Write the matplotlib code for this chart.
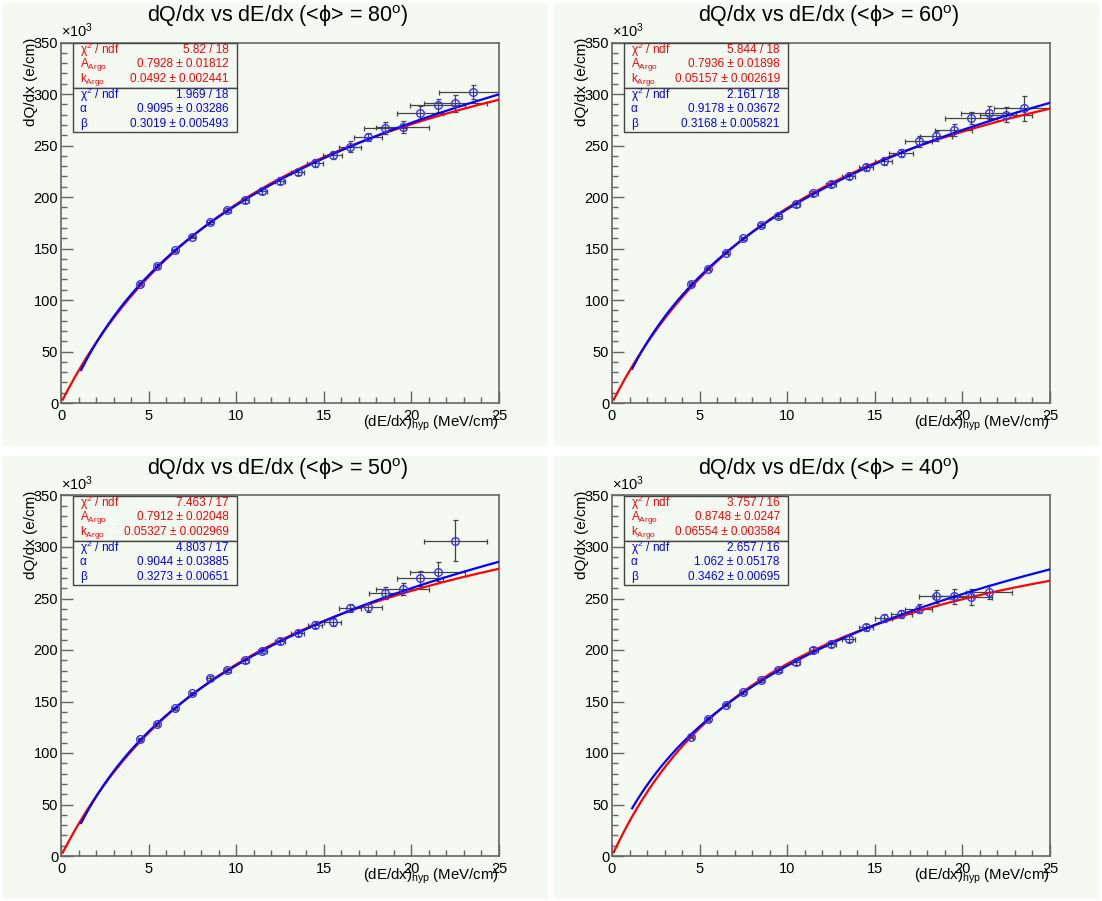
import numpy as np
import matplotlib
matplotlib.use('Agg')
import matplotlib.pyplot as plt
from matplotlib.patches import Rectangle

plt.rcParams['font.family'] = ['Liberation Sans', 'DejaVu Sans']
plt.rcParams['mathtext.fontset'] = 'custom'
plt.rcParams['mathtext.rm'] = 'Liberation Sans'
plt.rcParams['mathtext.it'] = 'Liberation Sans:italic'

# ---- data (dQ/dx in units of 1e3 e/cm) ----
angles = [80, 60, 50, 40]

x_80 = [4.5, 5.5, 6.5, 7.5, 8.5, 9.5, 10.5, 11.5, 12.5, 13.5, 14.5, 15.5, 16.5, 17.5, 18.5, 19.5, 20.5, 21.5, 22.5, 23.5]
y_80 = [116, 133, 148.5, 161.5, 176, 187, 197, 205.5, 216, 224, 233, 241, 249, 258, 267, 268, 282, 289, 291, 302]
xe_80 = [0.1, 0.12, 0.14, 0.16, 0.18, 0.2, 0.22, 0.26, 0.3, 0.35, 0.45, 0.53, 0.65, 0.8, 1.2, 1.5, 1.33, 1.58, 1.8, 1.9]
ye_80 = [1.5, 1.5, 1.5, 1.5, 2, 2, 2.5, 2.5, 3, 3, 3.5, 4, 5, 4, 6, 6, 6, 6, 8, 6.5]

x_60 = [4.5, 5.5, 6.5, 7.5, 8.5, 9.5, 10.5, 11.5, 12.5, 13.5, 14.5, 15.5, 16.5, 17.5, 18.5, 19.5, 20.5, 21.5, 22.5, 23.5]
y_60 = [116, 130.5, 146, 160, 173, 181.5, 193, 203.5, 212.5, 220.5, 229, 235, 242.5, 254, 259, 265, 276.5, 282, 280, 286]
xe_60 = [0.1, 0.12, 0.14, 0.16, 0.18, 0.2, 0.22, 0.26, 0.3, 0.35, 0.4, 0.5, 0.67, 0.76, 0.9, 1.05, 1.5, 1.58, 1.5, 1.7]
ye_60 = [1.5, 1.5, 1.5, 1.5, 2, 2, 2.5, 2.5, 3, 3, 3.5, 4, 4, 5, 5, 5.5, 6, 6, 7, 12.5]

x_50 = [4.5, 5.5, 6.5, 7.5, 8.5, 9.5, 10.5, 11.5, 12.5, 13.5, 14.5, 15.5, 16.5, 17.5, 18.5, 19.5, 20.5, 21.5, 22.5]
y_50 = [113.5, 128, 143.5, 158, 172.5, 180.5, 190, 199.5, 208.5, 216.5, 224.5, 227, 241, 241.5, 255.5, 259.5, 269.5, 276, 306]
xe_50 = [0.1, 0.12, 0.14, 0.16, 0.18, 0.2, 0.22, 0.26, 0.3, 0.35, 0.4, 0.5, 0.65, 0.8, 0.93, 1.5, 1.33, 1.58, 1.8]
ye_50 = [1.5, 1.5, 1.5, 1.5, 2, 2, 2.5, 2.5, 3, 3, 3.5, 4, 4, 4.5, 6, 6, 7, 9, 20]

x_40 = [4.5, 5.5, 6.5, 7.5, 8.5, 9.5, 10.5, 11.5, 12.5, 13.5, 14.5, 15.5, 16.5, 17.5, 18.5, 19.5, 20.5, 21.5]
y_40 = [116, 133, 147, 159, 171, 181, 188, 200, 206, 211, 222, 231, 235, 240, 252, 252, 251.5, 256.5]
xe_40 = [0.1, 0.12, 0.14, 0.16, 0.18, 0.2, 0.22, 0.26, 0.3, 0.35, 0.4, 0.5, 0.6, 0.76, 0.97, 1.1, 1.2, 1.31]
ye_40 = [1.5, 1.5, 1.5, 1.5, 2, 2, 2.5, 2.5, 3, 3, 3.5, 4, 4, 4.5, 6, 7, 8, 7]

# fit results shown in the stat boxes
chi_birks = ['5.82 / 18', '5.844 / 18', '7.463 / 17', '3.757 / 16']
A_argo = [0.7928, 0.7936, 0.7912, 0.8748]
A_argo_txt = ['0.7928', '0.7936', '0.7912', '0.8748']
A_argo_err = ['0.01812', '0.01898', '0.02048', '0.0247']
k_argo = [0.0492, 0.05157, 0.05327, 0.06554]
k_argo_txt = ['0.0492', '0.05157', '0.05327', '0.06554']
k_argo_err = ['0.002441', '0.002619', '0.002969', '0.003584']

chi_modbox = ['1.969 / 18', '2.161 / 18', '4.803 / 17', '2.657 / 16']
alpha = [0.9095, 0.9178, 0.9044, 1.062]
alpha_txt = ['0.9095', '0.9178', '0.9044', '1.062']
alpha_err = ['0.03286', '0.03672', '0.03885', '0.05178']
beta = [0.3019, 0.3168, 0.3273, 0.3462]
beta_txt = ['0.3019', '0.3168', '0.3273', '0.3462']
beta_err = ['0.005493', '0.005821', '0.00651', '0.00695']

xs = [x_80, x_60, x_50, x_40]
ys = [y_80, y_60, y_50, y_40]
xes = [xe_80, xe_60, xe_50, xe_40]
yes = [ye_80, ye_60, ye_50, ye_40]

W_ion = 23.6e-6   # MeV
rhoE = 0.664      # density * field

def birks(x, A, k):
    return A * x / (1 + k / rhoE * x) / W_ion / 1e3

def modbox(x, a, b):
    return np.log(a + b * x) / b / W_ion / 1e3

fig = plt.figure(figsize=(11.02, 9.01), dpi=100)
FW, FH = 1102.0, 901.0
pad_col = '#f4f9f2'
axcol = '#666666'

pads = [(0, 0), (551, 0), (0, 453), (551, 453)]
for i in range(4):
    px, py = pads[i]
    # pad background
    fig.patches.append(Rectangle(((px + 3) / FW, 1 - (py + 446) / FH), 545 / FW, 443 / FH,
                                 transform=fig.transFigure, facecolor=pad_col, edgecolor='none', zorder=-10))
    ax = fig.add_axes([(px + 61) / FW, 1 - (py + 403) / FH, 438 / FW, 360.5 / FH])
    ax.set_zorder(1)
    ax.set_facecolor(pad_col)
    ax.set_xlim(0, 25)
    ax.set_ylim(0, 350)
    ax.set_xticks(np.arange(0, 26, 5))
    ax.set_xticks(np.arange(0, 26, 1), minor=True)
    ax.set_yticks(np.arange(0, 351, 50))
    ax.set_yticks(np.arange(0, 351, 10), minor=True)
    ax.tick_params(which='both', direction='in', colors=axcol, labelcolor='black', labelsize=10.5)
    ax.tick_params(which='major', length=8.5, width=1)
    ax.tick_params(which='minor', length=4.5, width=1)
    ax.tick_params(axis='x', pad=4)
    ax.tick_params(axis='y', pad=2)
    for s in ax.spines.values():
        s.set_color(axcol)
        s.set_linewidth(1.2)

    ax.errorbar(xs[i], ys[i], xerr=xes[i], yerr=yes[i], fmt='none', ecolor='#444444',
                elinewidth=0.9, capsize=1.8, capthick=0.9, zorder=2)

    xr = np.linspace(0.1, 25, 300)
    ax.plot(xr, birks(xr, A_argo[i], k_argo[i]), color='#ff0000', lw=1.6, zorder=3)
    xb = np.linspace(1.15, 25, 300)
    ax.plot(xb, modbox(xb, alpha[i], beta[i]), color='#0000ff', lw=1.6, zorder=4)

    ax.plot(xs[i], ys[i], 'o', mfc='none', mec='#3333ff', ms=5.5, mew=1.0, zorder=5)

    # stat boxes
    ax.add_patch(Rectangle((0.027, 0.875), 0.374, 0.125, transform=ax.transAxes,
                           facecolor=pad_col, edgecolor='#444444', lw=1, zorder=6))
    ax.add_patch(Rectangle((0.027, 0.751), 0.374, 0.124, transform=ax.transAxes,
                           facecolor=pad_col, edgecolor='#444444', lw=1, zorder=6))
    rows = [
        ('χ$^{2}$ / ndf', chi_birks[i], 'red'),
        ('A$_{\\rm Argo}$', A_argo_txt[i] + ' ± ' + A_argo_err[i], 'red'),
        ('k$_{\\rm Argo}$', k_argo_txt[i] + ' ± ' + k_argo_err[i], 'red'),
        ('χ$^{2}$ / ndf', chi_modbox[i], 'blue'),
        ('α', alpha_txt[i] + ' ± ' + alpha_err[i], 'blue'),
        ('β', beta_txt[i] + ' ± ' + beta_err[i], 'blue'),
    ]
    row_y = [0.979, 0.940, 0.898, 0.854, 0.815, 0.773]
    for (lab, val, c), yy in zip(rows, row_y):
        ax.text(0.043, yy, lab, color=c, fontsize=8.5, transform=ax.transAxes, ha='left', va='center', zorder=7)
        ax.text(0.383, yy, val, color=c, fontsize=8.5, transform=ax.transAxes, ha='right', va='center', zorder=7)

    ax.text(0.0, 1.008, '×10$^{3}$', transform=ax.transAxes, fontsize=10.5, ha='left', va='bottom')
    ax.text(-0.068, 1.014, 'dQ/dx (e/cm)', transform=ax.transAxes, fontsize=11, rotation=90,
            ha='center', va='top')
    ax.text(1.0, -0.03, '(dE/dx)$_{\\rm hyp}$ (MeV/cm)', transform=ax.transAxes, fontsize=10.8,
            ha='right', va='top')

    fig.text((px + 278) / FW, 1 - (py + 16) / FH,
             'dQ/dx vs dE/dx (<ϕ> = %d$^{\\rm o}$)' % angles[i],
             fontsize=15.5, ha='center', va='center')

fig.savefig('out.png', dpi=100, facecolor='white')
